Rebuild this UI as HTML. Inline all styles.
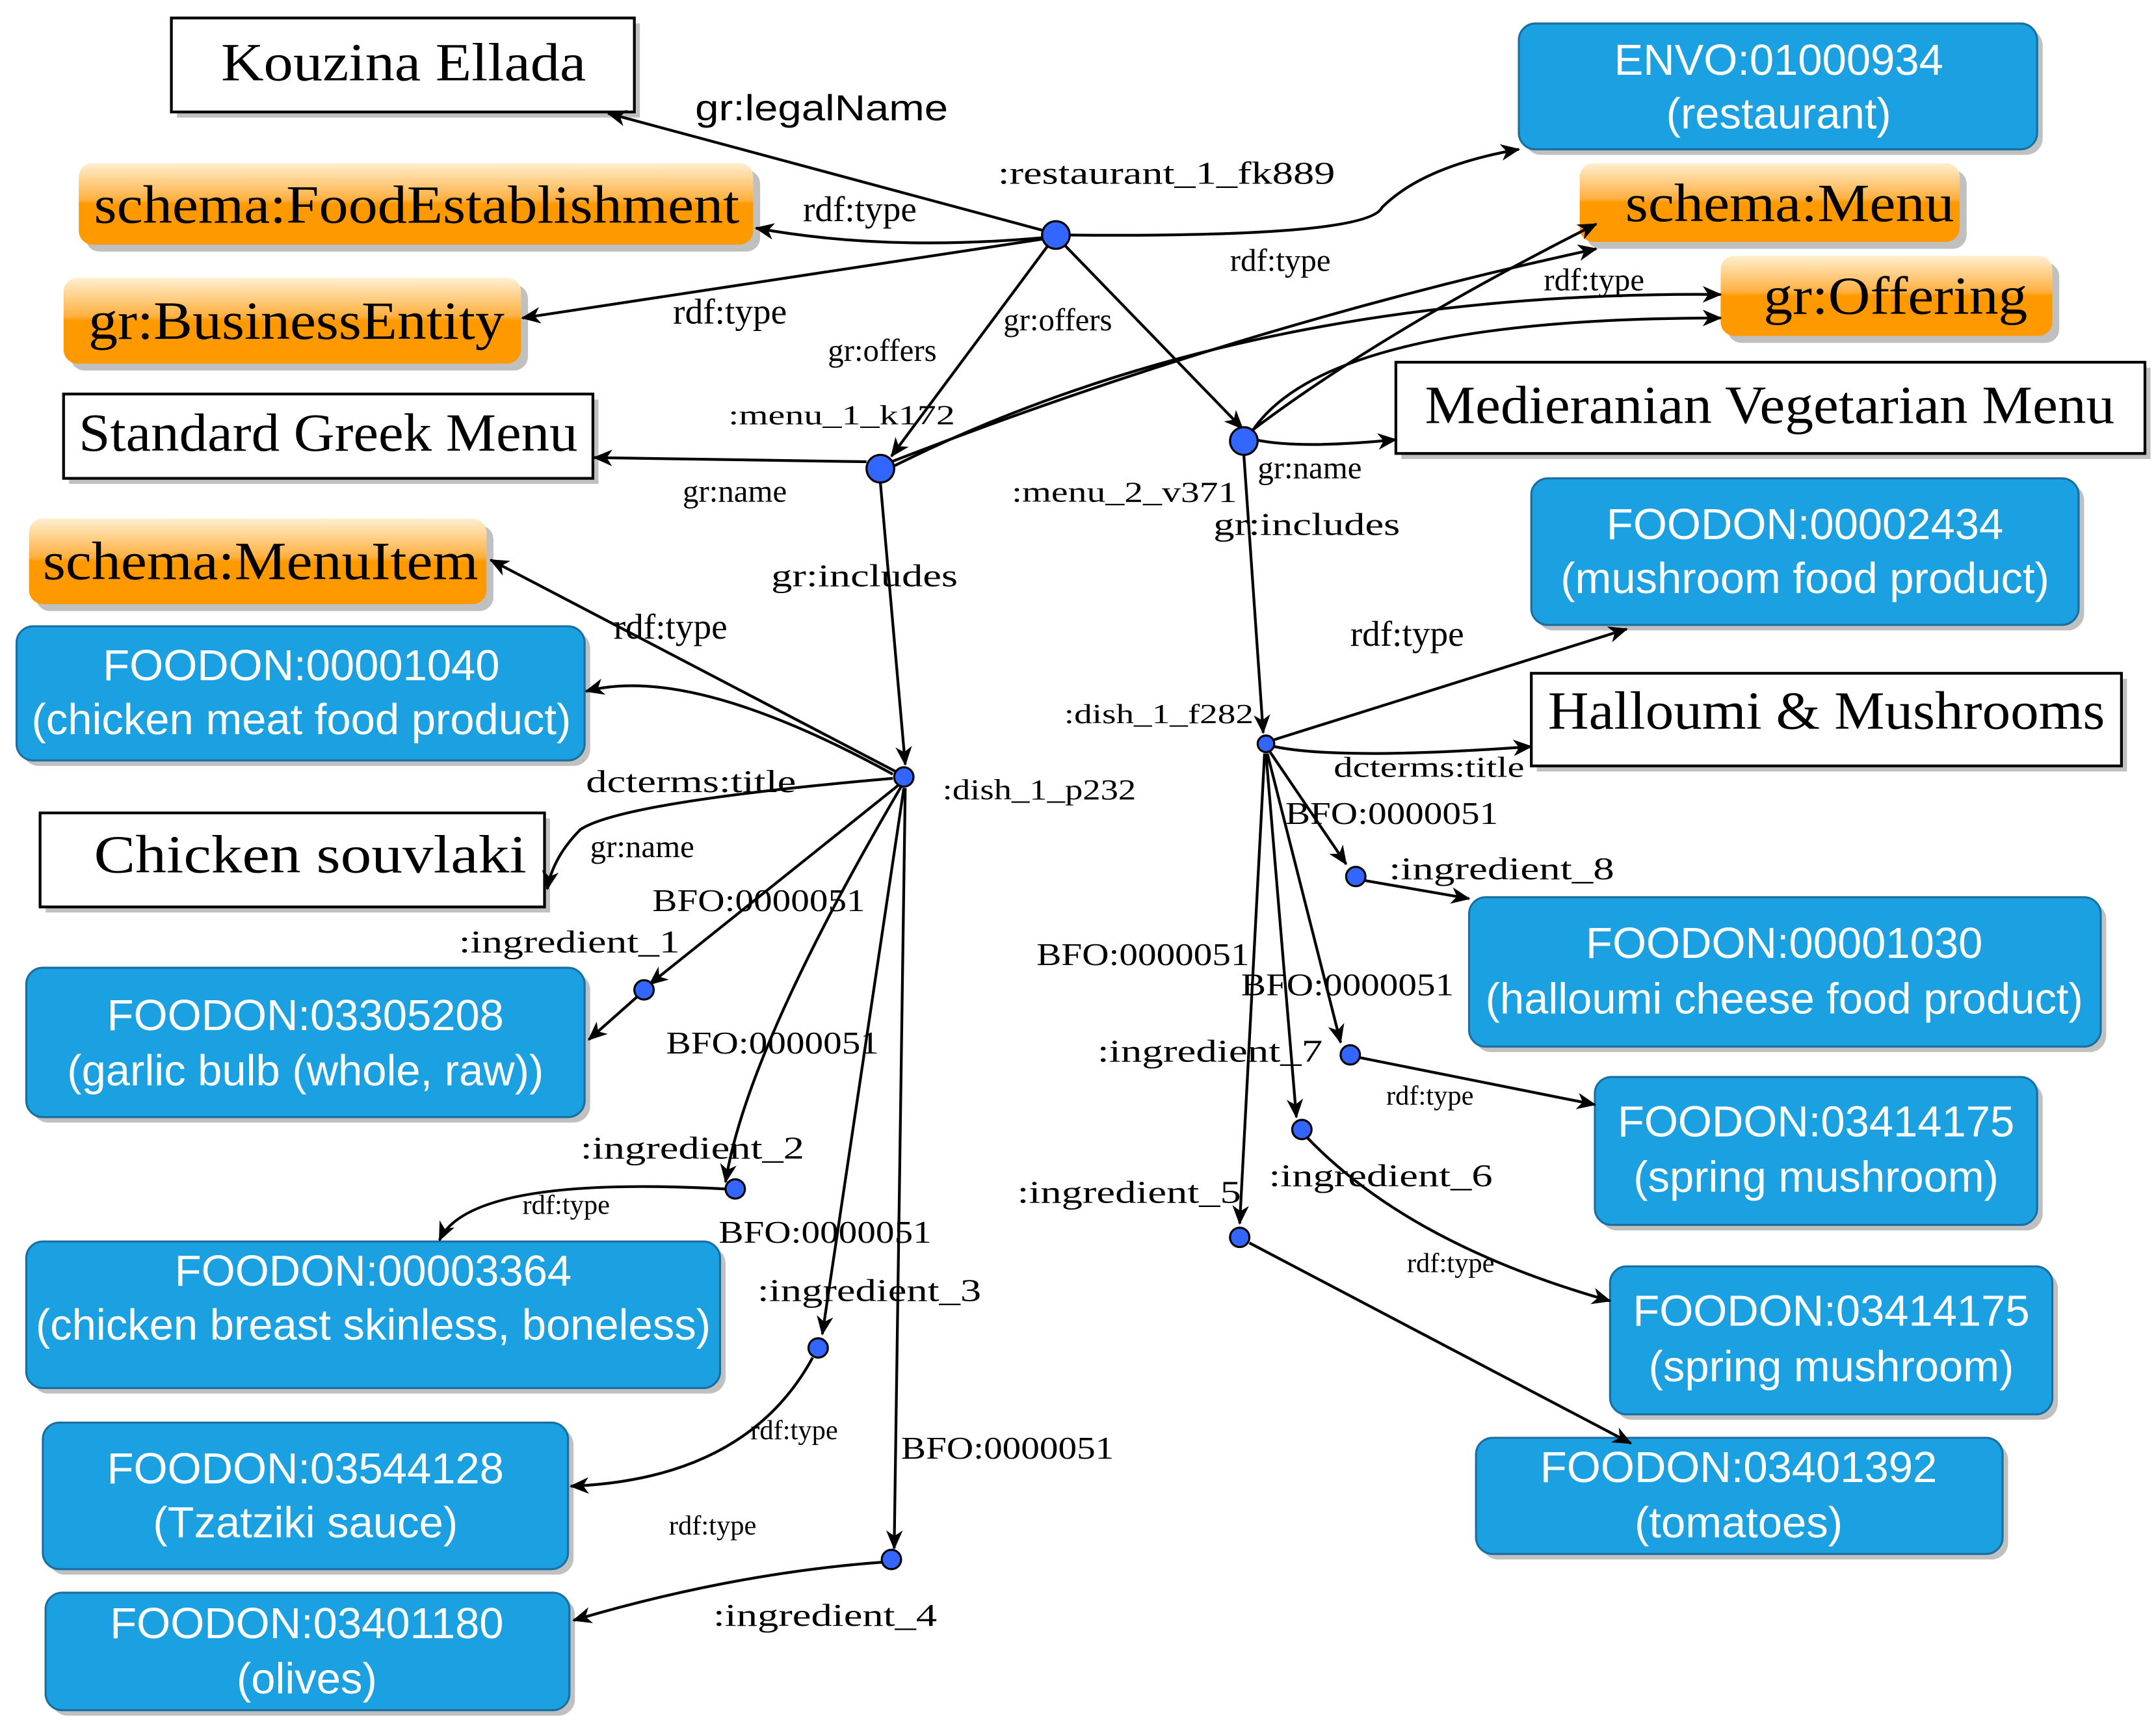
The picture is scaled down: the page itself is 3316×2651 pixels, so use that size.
<!DOCTYPE html>
<html><head><meta charset="utf-8"><style>
html,body{margin:0;padding:0;background:#fff;}
svg{display:block}
.l{font-family:"Liberation Serif",serif;font-size:23px;fill:#000}
.ls{font-family:"Liberation Sans",sans-serif;font-size:26px;fill:#000}
.bt{font-family:"Liberation Sans",sans-serif;font-size:31.5px;fill:#fff;text-anchor:middle}
.wt{font-family:"Liberation Serif",serif;font-size:39px;fill:#000}
.e{fill:none;stroke:#000;stroke-width:2;marker-end:url(#a)}
.n{fill:#3366ff;stroke:#000;stroke-width:1.5}
</style></head><body>
<svg width="3316" height="2651" viewBox="0 0 1560 1247" preserveAspectRatio="none" xmlns="http://www.w3.org/2000/svg">
<defs>
<marker id="a" markerWidth="14" markerHeight="12" refX="13" refY="6" orient="auto" markerUnits="userSpaceOnUse">
<path d="M0,0 L14,6 L0,12 L4,6 Z" fill="#000"/></marker>
<linearGradient id="og" x1="0" y1="0" x2="0" y2="1">
<stop offset="0" stop-color="#ffefd0"/><stop offset="0.45" stop-color="#ffb040"/><stop offset="0.5" stop-color="#ff9900"/><stop offset="1" stop-color="#ff9900"/></linearGradient>
</defs>
<g>
<rect x="128" y="17" width="335" height="68" fill="#c0c0c0"/><rect x="124" y="13" width="335" height="68" fill="#fff" stroke="#000" stroke-width="2"/>
<text class="wt" x="160" y="58" textLength="264" lengthAdjust="spacingAndGlyphs">Kouzina Ellada</text>
<rect x="50" y="289" width="383" height="61" fill="#c0c0c0"/><rect x="46" y="285" width="383" height="61" fill="#fff" stroke="#000" stroke-width="2"/>
<text class="wt" x="57" y="326" textLength="361" lengthAdjust="spacingAndGlyphs">Standard Greek Menu</text>
<rect x="33" y="592" width="365" height="68" fill="#c0c0c0"/><rect x="29" y="588" width="365" height="68" fill="#fff" stroke="#000" stroke-width="2"/>
<text class="wt" x="68" y="631" textLength="313" lengthAdjust="spacingAndGlyphs">Chicken souvlaki</text>
<rect x="1014" y="266" width="542" height="66" fill="#c0c0c0"/><rect x="1010" y="262" width="542" height="66" fill="#fff" stroke="#000" stroke-width="2"/>
<text class="wt" x="1031" y="306" textLength="499" lengthAdjust="spacingAndGlyphs">Medieranian Vegetarian Menu</text>
<rect x="1112" y="491" width="427" height="67" fill="#c0c0c0"/><rect x="1108" y="487" width="427" height="67" fill="#fff" stroke="#000" stroke-width="2"/>
<text class="wt" x="1120" y="527" textLength="403" lengthAdjust="spacingAndGlyphs">Halloumi &amp; Mushrooms</text>
</g>
<g>
<rect x="62" y="123" width="488" height="59" rx="10" fill="#c0c0c0"/><rect x="57" y="118" width="488" height="59" rx="10" fill="url(#og)"/>
<text class="wt" x="68" y="161" textLength="467" lengthAdjust="spacingAndGlyphs">schema:FoodEstablishment</text>
<rect x="51" y="206" width="331" height="62" rx="10" fill="#c0c0c0"/><rect x="46" y="201" width="331" height="62" rx="10" fill="url(#og)"/>
<text class="wt" x="64" y="245" textLength="301" lengthAdjust="spacingAndGlyphs">gr:BusinessEntity</text>
<rect x="26" y="380" width="331" height="62" rx="10" fill="#c0c0c0"/><rect x="21" y="375" width="331" height="62" rx="10" fill="url(#og)"/>
<text class="wt" x="31" y="419" textLength="315" lengthAdjust="spacingAndGlyphs">schema:MenuItem</text>
<rect x="1148" y="123" width="275" height="57" rx="10" fill="#c0c0c0"/><rect x="1143" y="118" width="275" height="57" rx="10" fill="url(#og)"/>
<text class="wt" x="1176" y="160" textLength="238" lengthAdjust="spacingAndGlyphs">schema:Menu</text>
<rect x="1250" y="190" width="240" height="58" rx="10" fill="#c0c0c0"/><rect x="1245" y="185" width="240" height="58" rx="10" fill="url(#og)"/>
<text class="wt" x="1276" y="227" textLength="191" lengthAdjust="spacingAndGlyphs">gr:Offering</text>
</g>
<g stroke="#1a6fa0" stroke-width="1.5">
<rect x="1103" y="21" width="375" height="91" rx="12" fill="#c0c0c0" stroke="none"/><rect x="1099" y="17" width="375" height="91" rx="12" fill="#1ba1e2"/>
<rect x="16" y="457" width="411" height="97" rx="12" fill="#c0c0c0" stroke="none"/><rect x="12" y="453" width="411" height="97" rx="12" fill="#1ba1e2"/>
<rect x="23" y="704" width="404" height="108" rx="12" fill="#c0c0c0" stroke="none"/><rect x="19" y="700" width="404" height="108" rx="12" fill="#1ba1e2"/>
<rect x="23" y="902" width="502" height="106" rx="12" fill="#c0c0c0" stroke="none"/><rect x="19" y="898" width="502" height="106" rx="12" fill="#1ba1e2"/>
<rect x="35" y="1033" width="380" height="106" rx="12" fill="#c0c0c0" stroke="none"/><rect x="31" y="1029" width="380" height="106" rx="12" fill="#1ba1e2"/>
<rect x="37" y="1156" width="379" height="85" rx="12" fill="#c0c0c0" stroke="none"/><rect x="33" y="1152" width="379" height="85" rx="12" fill="#1ba1e2"/>
<rect x="1112" y="350" width="396" height="106" rx="12" fill="#c0c0c0" stroke="none"/><rect x="1108" y="346" width="396" height="106" rx="12" fill="#1ba1e2"/>
<rect x="1067" y="653" width="457" height="108" rx="12" fill="#c0c0c0" stroke="none"/><rect x="1063" y="649" width="457" height="108" rx="12" fill="#1ba1e2"/>
<rect x="1158" y="783" width="320" height="107" rx="12" fill="#c0c0c0" stroke="none"/><rect x="1154" y="779" width="320" height="107" rx="12" fill="#1ba1e2"/>
<rect x="1169" y="920" width="320" height="107" rx="12" fill="#c0c0c0" stroke="none"/><rect x="1165" y="916" width="320" height="107" rx="12" fill="#1ba1e2"/>
<rect x="1072" y="1044" width="381" height="84" rx="12" fill="#c0c0c0" stroke="none"/><rect x="1068" y="1040" width="381" height="84" rx="12" fill="#1ba1e2"/>
</g>
<g>
<text class="bt" x="1287" y="54">ENVO:01000934</text><text class="bt" x="1287" y="93">(restaurant)</text>
<text class="bt" x="218" y="492">FOODON:00001040</text><text class="bt" x="218" y="531">(chicken meat food product)</text>
<text class="bt" x="221" y="745">FOODON:03305208</text><text class="bt" x="221" y="785">(garlic bulb (whole, raw))</text>
<text class="bt" x="270" y="930">FOODON:00003364</text><text class="bt" x="270" y="969">(chicken breast skinless, boneless)</text>
<text class="bt" x="221" y="1073">FOODON:03544128</text><text class="bt" x="221" y="1112">(Tzatziki sauce)</text>
<text class="bt" x="222" y="1185">FOODON:03401180</text><text class="bt" x="222" y="1225">(olives)</text>
<text class="bt" x="1306" y="390">FOODON:00002434</text><text class="bt" x="1306" y="429">(mushroom food product)</text>
<text class="bt" x="1291" y="693">FOODON:00001030</text><text class="bt" x="1291" y="733">(halloumi cheese food product)</text>
<text class="bt" x="1314" y="822">FOODON:03414175</text><text class="bt" x="1314" y="862">(spring mushroom)</text>
<text class="bt" x="1325" y="959">FOODON:03414175</text><text class="bt" x="1325" y="999">(spring mushroom)</text>
<text class="bt" x="1258" y="1072">FOODON:03401392</text><text class="bt" x="1258" y="1112">(tomatoes)</text>
</g>
<g>
<path class="e" d="M756,167 L440,82"/>
<path class="e" d="M754,172 Q640,182 547,165"/>
<path class="e" d="M754,173 L378,230"/>
<path class="e" d="M774,170 Q990,172 1000,150 Q1030,120 1099,108"/>
<path class="e" d="M758,178 L645,330"/>
<path class="e" d="M771,178 L899,310"/>
<path class="e" d="M627,334 L430,331"/>
<path class="e" d="M645,334 Q900,235 1155,180"/>
<path class="e" d="M645,338 Q900,210 1245,213"/>
<path class="e" d="M905,312 Q1000,240 1155,162"/>
<path class="e" d="M906,312 Q960,230 1245,230"/>
<path class="e" d="M908,318 Q940,325 1010,318"/>
<path class="e" d="M637,349 L655,553"/>
<path class="e" d="M900,329 L914,530"/>
<path class="e" d="M648,558 L355,405"/>
<path class="e" d="M646,560 Q500,480 424,500"/>
<path class="e" d="M646,563 Q450,580 420,600 Q400,620 396,643"/>
<path class="e" d="M650,568 L470,712"/>
<path class="e" d="M461,721 L426,752"/>
<path class="e" d="M652,569 Q540,760 525,855"/>
<path class="e" d="M525,860 Q340,850 318,897"/>
<path class="e" d="M654,570 L595,965"/>
<path class="e" d="M588,982 Q540,1070 413,1075"/>
<path class="e" d="M655,570 L647,1120"/>
<path class="e" d="M638,1130 Q530,1138 415,1172"/>
<path class="e" d="M922,535 L1177,455"/>
<path class="e" d="M922,540 Q970,550 1108,540"/>
<path class="e" d="M919,544 L974,625"/>
<path class="e" d="M988,637 L1063,650"/>
<path class="e" d="M917,545 L970,754"/>
<path class="e" d="M984,765 L1154,799"/>
<path class="e" d="M916,545 L938,808"/>
<path class="e" d="M946,823 Q1020,900 1165,941"/>
<path class="e" d="M915,545 L897,885"/>
<path class="e" d="M904,899 L1180,1044"/>
</g>
<g>
<ellipse class="n" cx="764" cy="170" rx="10" ry="10"/>
<ellipse class="n" cx="637" cy="339" rx="10" ry="10"/>
<ellipse class="n" cx="900" cy="319" rx="10" ry="10"/>
<ellipse class="n" cx="654" cy="562" rx="7" ry="7"/>
<ellipse class="n" cx="916" cy="538" rx="6" ry="6"/>
<ellipse class="n" cx="466" cy="716" rx="7" ry="7"/>
<ellipse class="n" cx="532" cy="860" rx="7" ry="7"/>
<ellipse class="n" cx="592" cy="975" rx="7" ry="7"/>
<ellipse class="n" cx="645" cy="1128" rx="7" ry="7"/>
<ellipse class="n" cx="981" cy="634" rx="7" ry="7"/>
<ellipse class="n" cx="977" cy="763" rx="7" ry="7"/>
<ellipse class="n" cx="942" cy="817" rx="7" ry="7"/>
<ellipse class="n" cx="897" cy="895" rx="7" ry="7"/>
</g>
<g>
<text class="ls" x="503" y="87" textLength="183" lengthAdjust="spacingAndGlyphs">gr:legalName</text>
<text class="l" x="722" y="133" textLength="244" lengthAdjust="spacingAndGlyphs">:restaurant_1_fk889</text>
<text class="l" x="581" y="160" style="font-size:26px">rdf:type</text>
<text class="l" x="487" y="234" style="font-size:26px">rdf:type</text>
<text class="l" x="599" y="261">gr:offers</text>
<text class="l" x="726" y="239">gr:offers</text>
<text class="l" x="890" y="196">rdf:type</text>
<text class="l" x="1117" y="210">rdf:type</text>
<text class="l" x="527" y="307" style="font-size:20px" textLength="164" lengthAdjust="spacingAndGlyphs">:menu_1_k172</text>
<text class="l" x="494" y="363">gr:name</text>
<text class="l" x="732" y="363" style="font-size:21px" textLength="163" lengthAdjust="spacingAndGlyphs">:menu_2_v371</text>
<text class="l" x="910" y="346">gr:name</text>
<text class="l" x="878" y="387" textLength="135" lengthAdjust="spacingAndGlyphs">gr:includes</text>
<text class="l" x="558" y="424" textLength="135" lengthAdjust="spacingAndGlyphs">gr:includes</text>
<text class="l" x="444" y="462" style="font-size:26px">rdf:type</text>
<text class="l" x="977" y="467" style="font-size:26px">rdf:type</text>
<text class="l" x="770" y="523" style="font-size:20px" textLength="137" lengthAdjust="spacingAndGlyphs">:dish_1_f282</text>
<text class="l" x="682" y="578" style="font-size:21px" textLength="140" lengthAdjust="spacingAndGlyphs">:dish_1_p232</text>
<text class="l" x="424" y="573" textLength="152" lengthAdjust="spacingAndGlyphs">dcterms:title</text>
<text class="l" x="965" y="562" style="font-size:21px" textLength="138" lengthAdjust="spacingAndGlyphs">dcterms:title</text>
<text class="l" x="427" y="620">gr:name</text>
<text class="l" x="930" y="596" textLength="154" lengthAdjust="spacingAndGlyphs">BFO:0000051</text>
<text class="l" x="1005" y="636" textLength="163" lengthAdjust="spacingAndGlyphs">:ingredient_8</text>
<text class="l" x="332" y="689" textLength="160" lengthAdjust="spacingAndGlyphs">:ingredient_1</text>
<text class="l" x="472" y="659" textLength="154" lengthAdjust="spacingAndGlyphs">BFO:0000051</text>
<text class="l" x="750" y="698" textLength="154" lengthAdjust="spacingAndGlyphs">BFO:0000051</text>
<text class="l" x="898" y="720" textLength="154" lengthAdjust="spacingAndGlyphs">BFO:0000051</text>
<text class="l" x="482" y="762" textLength="154" lengthAdjust="spacingAndGlyphs">BFO:0000051</text>
<text class="l" x="794" y="768" textLength="163" lengthAdjust="spacingAndGlyphs">:ingredient_7</text>
<text class="l" x="1003" y="799" style="font-size:20px">rdf:type</text>
<text class="l" x="420" y="838" textLength="162" lengthAdjust="spacingAndGlyphs">:ingredient_2</text>
<text class="l" x="918" y="858" textLength="162" lengthAdjust="spacingAndGlyphs">:ingredient_6</text>
<text class="l" x="736" y="870" textLength="162" lengthAdjust="spacingAndGlyphs">:ingredient_5</text>
<text class="l" x="378" y="878" style="font-size:20px">rdf:type</text>
<text class="l" x="520" y="899" textLength="154" lengthAdjust="spacingAndGlyphs">BFO:0000051</text>
<text class="l" x="1018" y="920" style="font-size:20px">rdf:type</text>
<text class="l" x="548" y="941" textLength="162" lengthAdjust="spacingAndGlyphs">:ingredient_3</text>
<text class="l" x="543" y="1041" style="font-size:20px">rdf:type</text>
<text class="l" x="652" y="1055" textLength="154" lengthAdjust="spacingAndGlyphs">BFO:0000051</text>
<text class="l" x="484" y="1110" style="font-size:20px">rdf:type</text>
<text class="l" x="516" y="1176" textLength="162" lengthAdjust="spacingAndGlyphs">:ingredient_4</text>
</g>
</svg>
</body></html>
